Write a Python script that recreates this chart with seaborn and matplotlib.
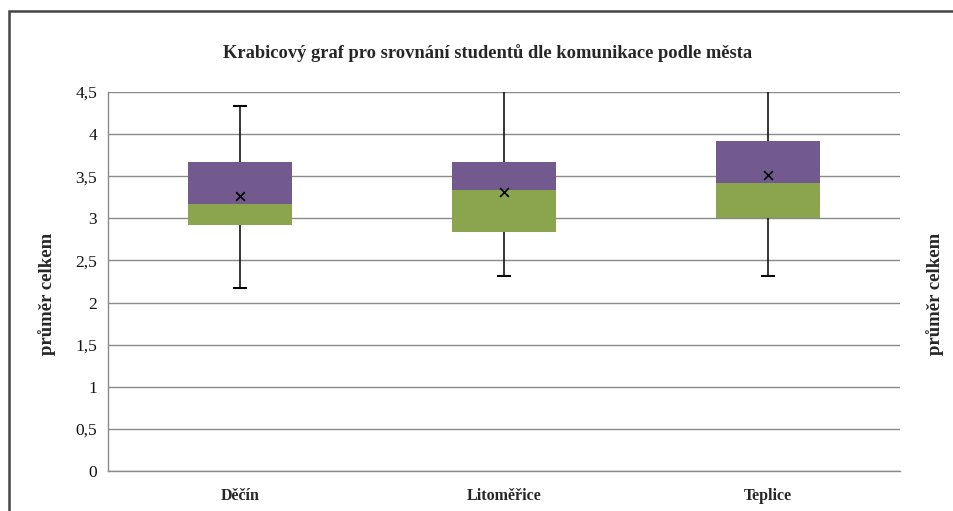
import numpy as np
import pandas as pd
import seaborn as sns
import matplotlib.pyplot as plt
from matplotlib.patches import Rectangle
from matplotlib.ticker import FuncFormatter, FixedLocator

# box stats
mesta = ['Děčín', 'Litoměřice', 'Teplice']
minimum = [2.17, 2.32, 2.32]
q1 = [2.92, 2.84, 3.00]
median = [3.17, 3.34, 3.42]
q3 = [3.67, 3.67, 3.92]
maximum = [4.33, 5.0, 5.0]
prumer = [3.27, 3.31, 3.51]

fialova = '#725A8F'
zelena = '#8BA54F'

df = pd.DataFrame({'mesto': mesta, 'q1': q1, 'median': median, 'q3': q3,
                   'min': minimum, 'max': maximum, 'prumer': prumer})
df['dolni'] = df['median'] - df['q1']
df['horni'] = df['q3'] - df['median']

sns.set_style('white')
plt.rcParams['font.family'] = ['Liberation Serif', 'DejaVu Serif']

fig = plt.figure(figsize=(9.54, 5.11), dpi=100)
ax = fig.add_axes([108 / 954, 1 - 471 / 511, 792 / 954, 379 / 511])

# whiskers behind the boxes
x = np.arange(len(mesta))
ax.errorbar(x, df['median'], yerr=[df['median'] - df['min'], df['max'] - df['median']],
            fmt='none', ecolor='black', elinewidth=1.1, capsize=5, capthick=1.5, zorder=2)

sns.barplot(data=df, x='mesto', y='dolni', bottom=df['q1'], color=zelena,
            width=0.395, saturation=1, ax=ax, zorder=3, linewidth=0)
sns.barplot(data=df, x='mesto', y='horni', bottom=df['median'], color=fialova,
            width=0.395, saturation=1, ax=ax, zorder=3, linewidth=0)
sns.scatterplot(data=df, x='mesto', y='prumer', marker='x', color='black', s=40,
                linewidth=1.2, ax=ax, zorder=4)

ax.set_xlim(-0.5, 2.5)
ax.set_ylim(0, 4.5)
ax.set_yticks(np.arange(0, 4.51, 0.5))
ax.yaxis.set_major_formatter(FuncFormatter(lambda v, p: ('%g' % v).replace('.', ',')))
ax.yaxis.grid(True, color='#8a8a8a', linewidth=1)
ax.set_axisbelow(True)

for s in ['top', 'right']:
    ax.spines[s].set_visible(False)
for s in ['left', 'bottom']:
    ax.spines[s].set_color('#8a8a8a')
    ax.spines[s].set_linewidth(1)

ax.tick_params(axis='y', direction='out', length=5, color='#8a8a8a', labelsize=12.5,
               labelcolor='#111111', pad=3)
ax.tick_params(axis='x', which='major', length=0, labelsize=11.5, pad=12)
ax.xaxis.set_minor_locator(FixedLocator([-0.5, 0.5, 1.5, 2.5]))
ax.tick_params(axis='x', which='minor', direction='out', length=6, color='#8a8a8a')
for lab in ax.get_xticklabels():
    lab.set_fontweight('bold')

ax.set_xlabel('')
ax.set_ylabel('')
fig.text(47 / 954, 1 - 294 / 511, 'průměr celkem', rotation=90, ha='center', va='center',
         fontsize=13.5, fontweight='bold')
fig.text(935 / 954, 1 - 294 / 511, 'průměr celkem', rotation=90, ha='center', va='center',
         fontsize=13.5, fontweight='bold')
fig.text(488 / 954, 1 - 53 / 511, 'Krabicový graf pro srovnání studentů dle komunikace podle města',
         ha='center', va='center', fontsize=13.3, fontweight='bold')

# outer frame of the chart area
fig.patches.append(Rectangle((9.5 / 954, -0.1), 1.1, 1 - 11 / 511 + 0.1, transform=fig.transFigure,
                             fill=False, edgecolor='#444444', linewidth=1.8))

fig.savefig('out.png', dpi=100)
